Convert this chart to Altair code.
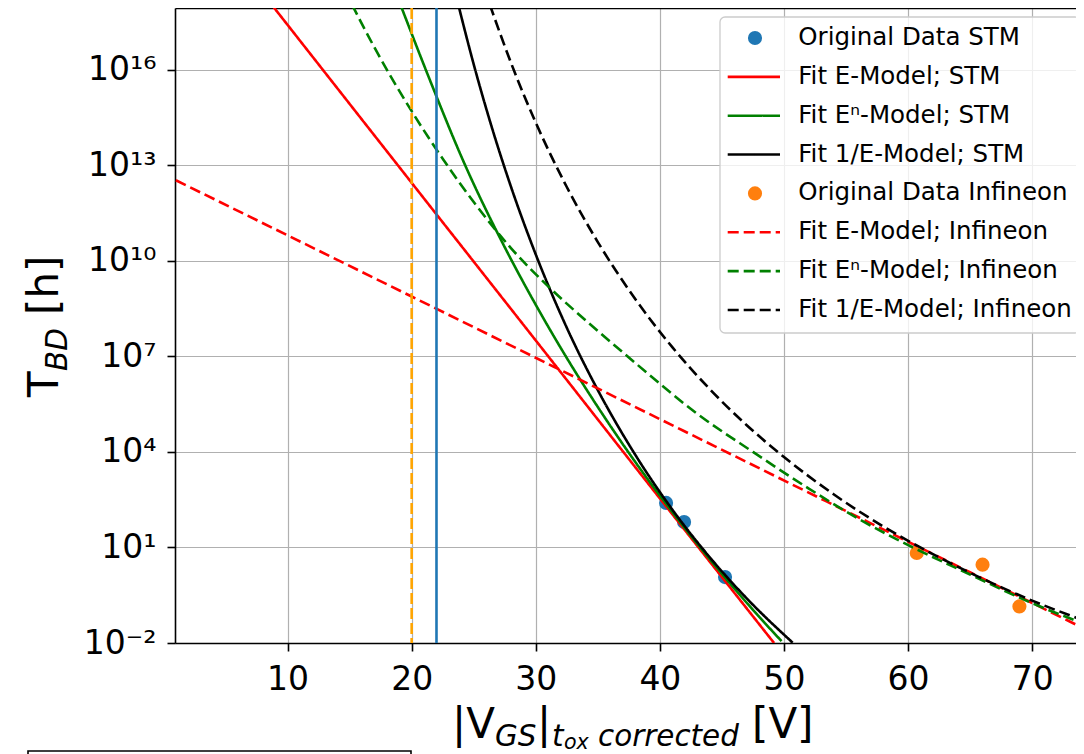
import altair as alt
import pandas as pd

# ---------------- values (x in V, log10 of T_BD in h) ----------------
stm_data_x = [40.5, 41.95, 45.25]
stm_data_logT = [2.40, 1.80, 0.07]
inf_data_x = [60.7, 66.0, 68.97]
inf_data_logT = [0.83, 0.46, -0.85]

fit_e_stm_x = [8.73, 20.0, 30.0, 40.0, 49.2]
fit_e_stm_logT = [18.04, 12.45, 7.50, 2.54, -2.0]
fit_en_stm_x = [19.1, 21.6, 24.2, 27.3, 30.0, 32.5, 35.0, 37.5, 40.5, 43.0, 45.2, 47.5, 49.8]
fit_en_stm_logT = [18.04, 15.55, 13.1, 10.58, 8.62, 6.95, 5.41, 3.97, 2.37, 1.12, 0.08, -0.96, -1.94]
fit_inv_stm_x = [23.76, 25.0, 26.5, 28.0, 30.0, 32.5, 35.0, 38.0, 41.0, 44.0, 47.0, 50.7]
fit_inv_stm_logT = [18.04, 16.17, 14.14, 12.33, 10.2, 7.9, 5.94, 3.92, 2.19, 0.70, -0.60, -1.99]

fit_e_inf_x = [1.0, 20.0, 40.0, 60.0, 74.2]
fit_e_inf_logT = [12.53, 8.88, 5.03, 1.18, -1.55]
fit_en_inf_x = [15.2, 17.0, 20.0, 22.6, 25.0, 28.0, 31.0, 35.0, 38.0, 43.0, 47.5, 52.0, 56.0, 60.4, 65.0, 70.0, 74.2]
fit_en_inf_logT = [18.04, 16.7, 14.7, 13.15, 11.85, 10.4, 9.2, 7.8, 6.8, 5.2, 4.0, 2.85, 1.9, 1.0, 0.15, -0.75, -1.4]
fit_inv_inf_x = [26.3, 28.3, 30.0, 32.5, 35.0, 38.0, 41.0, 44.0, 47.0, 50.0, 54.0, 58.0, 62.0, 66.0, 70.0, 74.2]
fit_inv_inf_logT = [18.04, 15.92, 14.34, 12.32, 10.59, 8.81, 7.29, 5.98, 4.84, 3.84, 2.67, 1.66, 0.79, 0.02, -0.67, -1.3]

orange_line_x = [20.0]
blue_line_x = [22.0]

x_ticks = [10, 20, 30, 40, 50, 60, 70]
y_tick_exps = [-2, 1, 4, 7, 10, 13, 16]
y_tick_labels = ["10⁻²", "10¹", "10⁴", "10⁷", "10¹⁰", "10¹³", "10¹⁶"]

series_names = [
    "Original Data STM",
    "Fit E-Model; STM",
    "Fit Eⁿ-Model; STM",
    "Fit 1/E-Model; STM",
    "Original Data Infineon",
    "Fit E-Model; Infineon",
    "Fit Eⁿ-Model; Infineon",
    "Fit 1/E-Model; Infineon",
]
series_kinds = ["point", "line", "line", "line", "point", "line", "line", "line"]
series_colors = ["#1f77b4", "#ff0000", "#008000", "#000000", "#ff7f0e", "#ff0000", "#008000", "#000000"]
line_names = [n for n, k in zip(series_names, series_kinds) if k == "line"]
line_dashes = [[1, 0], [1, 0], [1, 0], [11, 5], [11, 5], [11, 5]]

# ---------------- tables ----------------
def frame(name, xs, ls):
    return pd.DataFrame({"series": name, "x": xs, "T": [10.0 ** v for v in ls]})

pts_stm = frame(series_names[0], stm_data_x, stm_data_logT)
pts_inf = frame(series_names[4], inf_data_x, inf_data_logT)
lines_stm = pd.concat([
    frame(series_names[1], fit_e_stm_x, fit_e_stm_logT),
    frame(series_names[2], fit_en_stm_x, fit_en_stm_logT),
    frame(series_names[3], fit_inv_stm_x, fit_inv_stm_logT),
])
lines_inf = pd.concat([
    frame(series_names[5], fit_e_inf_x, fit_e_inf_logT),
    frame(series_names[6], fit_en_inf_x, fit_en_inf_logT),
    frame(series_names[7], fit_inv_inf_x, fit_inv_inf_logT),
])
legend_df = pd.DataFrame({"series": series_names, "row": list(range(len(series_names))), "kind": series_kinds})

# ---------------- scales ----------------
W, H = 901, 635
FONT = "DejaVu Sans"
xs = alt.Scale(domain=[0.93, 73.53], nice=False, zero=False)
ys = alt.Scale(type="log", domain=[0.01, 10 ** 17.94], nice=False)
color_scale = alt.Scale(domain=series_names, range=series_colors)
dash_scale = alt.Scale(domain=line_names, range=line_dashes)

expr = "''"
for e, lab in reversed(list(zip(y_tick_exps, y_tick_labels))):
    expr = f"round(log(datum.value)/LN10) == {e} ? '{lab}' : ({expr})"

x_main = alt.X("x:Q", scale=xs, axis=alt.Axis(values=x_ticks, grid=True, title=None, labelPadding=12,
                                              labelFontSize=33, labelFlush=False))
y_main = alt.Y("T:Q", scale=ys, axis=alt.Axis(values=[10.0 ** e for e in y_tick_exps], grid=True, title=None,
                                              labelExpr=expr, labelPadding=11, labelFontSize=33))
x_plain = alt.X("x:Q", scale=xs, axis=None)
y_plain = alt.Y("T:Q", scale=ys, axis=None)
x_top = alt.X("x:Q", scale=xs, axis=alt.Axis(orient="top", labels=False, ticks=False, grid=False,
                                             title=None, domain=True))
col = alt.Color("series:N", scale=color_scale, legend=None)
dash = alt.StrokeDash("series:N", scale=dash_scale, legend=None)

MS = 200
layer_pts_stm = alt.Chart(pts_stm).mark_circle(size=MS, opacity=1).encode(x=x_main, y=y_main, color=col)
layer_lines_stm = alt.Chart(lines_stm).mark_line(strokeWidth=2.6, clip=True, interpolate="monotone").encode(
    x=x_plain, y=y_plain, color=col, strokeDash=dash)
layer_pts_inf = alt.Chart(pts_inf).mark_circle(size=MS, opacity=1).encode(x=x_top, y=y_plain, color=col)
layer_lines_inf = alt.Chart(lines_inf).mark_line(strokeWidth=2.6, clip=True, interpolate="monotone").encode(
    x=x_plain, y=y_plain, color=col, strokeDash=dash)
layer_orange = alt.Chart(pd.DataFrame({"x": orange_line_x})).mark_rule(
    color="#ffa500", strokeWidth=2.6, strokeDash=[11, 4]).encode(x=x_plain)
layer_blue = alt.Chart(pd.DataFrame({"x": blue_line_x})).mark_rule(
    color="#1f77b4", strokeWidth=2.6).encode(x=x_plain)

# ---------------- legend ----------------
leg_y = alt.Y("row:Q", scale=alt.Scale(domain=[0, 7], range=[30, 302]), axis=None)
leg_box = alt.Chart(pd.DataFrame({"a": [0]})).mark_rect(
    fill="white", fillOpacity=0.8, stroke="#cccccc", strokeWidth=1.3, cornerRadius=5
).encode(x=alt.value(545), x2=alt.value(905), y=alt.value(9), y2=alt.value(325))
leg_lines = alt.Chart(legend_df).transform_filter(alt.datum.kind == "line").mark_rule(strokeWidth=2.6).encode(
    x=alt.value(552.7), x2=alt.value(605), y=leg_y, color=col, strokeDash=dash)
leg_pts = alt.Chart(legend_df).transform_filter(alt.datum.kind == "point").mark_circle(size=MS, opacity=1).encode(
    x=alt.value(580), y=leg_y, color=col)
leg_text = alt.Chart(legend_df).mark_text(align="left", baseline="middle", fontSize=24.5, font=FONT,
                                          color="black").encode(x=alt.value(623.3), y=leg_y, text="series:N")

# partially visible frame at the bottom-left edge of the figure
bottom_frame = alt.Chart(pd.DataFrame({"a": [0]})).mark_rect(
    fill="white", fillOpacity=0, stroke="black", strokeWidth=1.6
).encode(x=alt.value(-147), x2=alt.value(236), y=alt.value(743), y2=alt.value(770))

# ---------------- axis titles (mathtext-like pieces) ----------------
def piece(s, x, y, size, italic=False, angle=0):
    return alt.Chart(pd.DataFrame({"t": [s]})).mark_text(
        align="left", baseline="alphabetic", fontSize=size, font=FONT,
        fontStyle="italic" if italic else "normal", angle=angle, color="black"
    ).encode(x=alt.value(x), y=alt.value(y), text="t:N")

TB = 730  # main baseline of the x title, relative to the plot top
x_title = [
    piece("|V", 277, TB, 42),
    piece("GS", 320, TB + 8, 29.4, True),
    piece("|", 362, TB, 42),
    piece("t", 377, TB + 8, 29.4, True),
    piece("ox", 389, TB + 11, 20.6, True),
    piece("corrected", 423, TB + 8, 29.4, True),
    piece("[V]", 577, TB, 42),
]
y_title = [
    piece("T", -117, 389, 42, angle=270),
    piece("BD", -108, 363, 29.4, True, angle=270),
    piece("[h]", -117, 307, 42, angle=270),
]

chart = alt.layer(
    layer_pts_stm, layer_lines_stm, layer_pts_inf, layer_lines_inf, layer_orange, layer_blue,
    leg_box, leg_lines, leg_pts, leg_text, bottom_frame, *x_title, *y_title
).resolve_scale(x="independent", y="independent").properties(
    width=W, height=H,
    autosize=alt.AutoSizeParams(type="none"),
    padding={"left": 167, "top": 0, "right": 0, "bottom": 111},
    background="white",
).configure_view(strokeWidth=0).configure_axis(
    domainColor="black", domainWidth=1.6, tickColor="black", tickWidth=1.6, tickSize=8,
    gridColor="#b0b0b0", gridWidth=1.2, labelFont=FONT, labelColor="black",
)

chart.save("out.html", embed_options={"renderer": "svg", "actions": False})
